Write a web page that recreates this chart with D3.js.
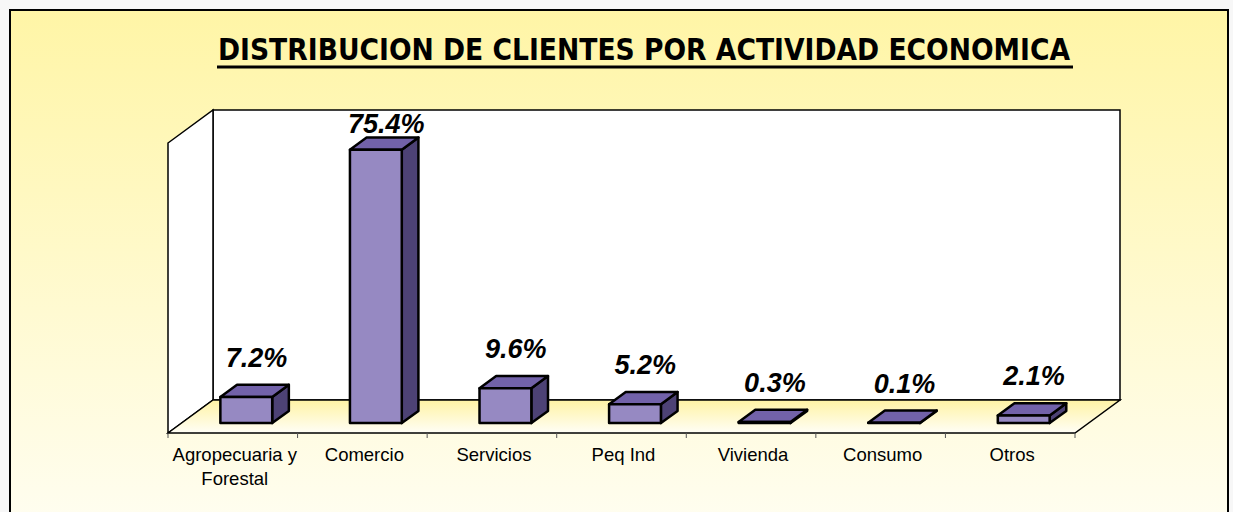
<!DOCTYPE html>
<html>
<head>
<meta charset="utf-8">
<script src="https://cdn.jsdelivr.net/npm/d3@7"></script>
<style>
  body { margin: 0; background: #f7f7f7; }
  svg { display: block; }
</style>
</head>
<body>
<svg id="chart" width="1233" height="512"></svg>
<script>
const categories = ['Agropecuaria y|Forestal', 'Comercio', 'Servicios', 'Peq Ind', 'Vivienda', 'Consumo', 'Otros'];
const values = [7.2, 75.4, 9.6, 5.2, 0.3, 0.1, 2.1];
const yMax = 80;

const svg = d3.select('#chart');
const defs = svg.append('defs');

const bg = defs.append('linearGradient').attr('id', 'bg').attr('x1', 0).attr('y1', 0).attr('x2', 0).attr('y2', 1);
bg.append('stop').attr('offset', '0%').attr('stop-color', '#fff5a6');
bg.append('stop').attr('offset', '100%').attr('stop-color', '#fffef4');

const floorGrad = defs.append('linearGradient').attr('id', 'floor').attr('x1', 0).attr('y1', 0).attr('x2', 0).attr('y2', 1);
floorGrad.append('stop').attr('offset', '0%').attr('stop-color', '#fff3a4');
floorGrad.append('stop').attr('offset', '100%').attr('stop-color', '#fffef6');

// outer frame
svg.append('rect')
    .attr('x', 10).attr('y', 10).attr('width', 1218).attr('height', 540)
    .style('fill', 'url(#bg)').style('stroke', '#000').style('stroke-width', 2);

// title
svg.append('text')
    .attr('x', 644).attr('y', 60)
    .attr('text-anchor', 'middle')
    .attr('textLength', 852).attr('lengthAdjust', 'spacingAndGlyphs')
    .style('font-family', 'DejaVu Sans, Verdana, sans-serif')
    .style('font-weight', 'bold').style('font-size', '30px')
    .text('DISTRIBUCION DE CLIENTES POR ACTIVIDAD ECONOMICA');
svg.append('line')
    .attr('x1', 217).attr('x2', 1073).attr('y1', 67).attr('y2', 67)
    .style('stroke', '#000').style('stroke-width', 3);

// 3d plot geometry
const LEFT = 168, RIGHT = 1075, FLOOR_Y = 433, PLOT_H = 290;
const DX = 45, DY = -33;   // depth offset of back wall
const F0 = 0.3, F1 = 0.67; // bar depth position

const x = d3.scaleBand().domain(categories).range([LEFT, RIGHT]).padding(0);
const y = d3.scaleLinear().domain([0, yMax]).range([0, PLOT_H]);

const line = d3.line();
const poly = pts => line(pts) + 'Z';

// back wall, side wall, floor
svg.append('path')
    .attr('d', poly([[LEFT + DX, FLOOR_Y + DY - PLOT_H], [RIGHT + DX, FLOOR_Y + DY - PLOT_H], [RIGHT + DX, FLOOR_Y + DY], [LEFT + DX, FLOOR_Y + DY]]))
    .style('fill', '#fff').style('stroke', '#000').style('stroke-width', 1.5);
svg.append('path')
    .attr('d', poly([[LEFT, FLOOR_Y - PLOT_H], [LEFT + DX, FLOOR_Y + DY - PLOT_H], [LEFT + DX, FLOOR_Y + DY], [LEFT, FLOOR_Y]]))
    .style('fill', '#fff').style('stroke', '#000').style('stroke-width', 1.5);
svg.append('path')
    .attr('d', poly([[LEFT, FLOOR_Y], [LEFT + DX, FLOOR_Y + DY], [RIGHT + DX, FLOOR_Y + DY], [RIGHT, FLOOR_Y]]))
    .style('fill', 'url(#floor)').style('stroke', '#000').style('stroke-width', 1.5);

// ticks at category boundaries
const bounds = categories.map(c => x(c)).concat([RIGHT]);
svg.selectAll('.tick').data(bounds).join('line')
    .attr('x1', d => d).attr('x2', d => d)
    .attr('y1', FLOOR_Y).attr('y2', FLOOR_Y + 5)
    .style('stroke', '#555').style('stroke-width', 1);

// bars
const bw = x.bandwidth() * 0.4;
const ddx = (F1 - F0) * DX, ddy = (F1 - F0) * DY;
const yb = FLOOR_Y + F0 * DY;

const bars = svg.selectAll('.bar').data(values).join('g').attr('class', 'bar');
bars.each(function (v, i) {
    const g = d3.select(this);
    const cx = x(categories[i]) + x.bandwidth() / 2 + F0 * DX;
    const x0 = cx - bw / 2, x1 = cx + bw / 2;
    const yt = yb - y(v);
    g.append('path').attr('d', poly([[x1, yt], [x1 + ddx, yt + ddy], [x1 + ddx, yb + ddy], [x1, yb]]))
        .style('fill', '#4d4275');
    g.append('path').attr('d', poly([[x0, yt], [x0 + ddx, yt + ddy], [x1 + ddx, yt + ddy], [x1, yt]]))
        .style('fill', '#7262a9');
    g.append('path').attr('d', poly([[x0, yt], [x1, yt], [x1, yb], [x0, yb]]))
        .style('fill', '#9689c2');
    g.selectAll('path').style('stroke', '#000').style('stroke-width', 2.5).style('stroke-linejoin', 'round');

    const ly = Math.max(yt + ddy - 18, FLOOR_Y + DY - PLOT_H + 23);
    g.append('text')
        .attr('x', cx + ddx / 2 + 2).attr('y', ly)
        .attr('text-anchor', 'middle')
        .style('font-family', 'Liberation Sans, Arial, sans-serif')
        .style('font-weight', 'bold').style('font-style', 'italic')
        .style('font-size', '27px')
        .text(d3.format('.1f')(v) + '%');
});

// category labels
const labels = svg.selectAll('.cat').data(categories).join('text')
    .attr('class', 'cat')
    .attr('x', d => x(d) + x.bandwidth() / 2 + 2)
    .attr('y', 461)
    .attr('text-anchor', 'middle')
    .style('font-family', 'Liberation Sans, Arial, sans-serif')
    .style('font-size', '18.5px');
labels.each(function (d) {
    const t = d3.select(this);
    d.split('|').forEach((part, k) => {
        t.append('tspan').attr('x', t.attr('x')).attr('dy', k === 0 ? 0 : 24).text(part);
    });
});
</script>
</body>
</html>
